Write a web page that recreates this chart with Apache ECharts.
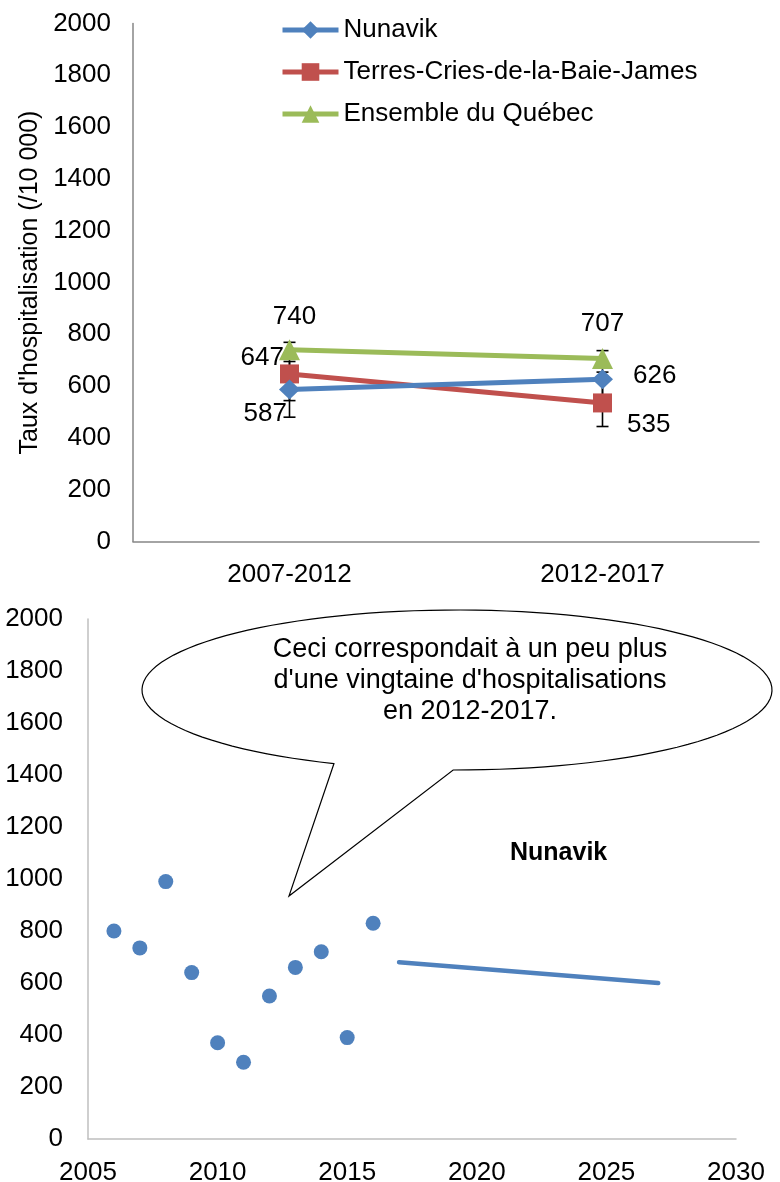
<!DOCTYPE html>
<html>
<head>
<meta charset="utf-8">
<script src="https://cdn.jsdelivr.net/npm/echarts@6/dist/echarts.min.js"></script>
<style>
  html, body { margin: 0; padding: 0; background: #fff; }
  #chart { width: 780px; height: 1182px; }
</style>
</head>
<body>
<div id="chart"></div>
<script>
// top chart: rates by period
const periods = ['2007-2012', '2012-2017'];
const nunavik = [587, 626];
const cries = [647, 535];
const quebec = [740, 707];
// confidence intervals [low, high]
const nunavikCI = [[480, 695], [515, 737]];
const criesCI = [[544, 769], [444, 654]];

// bottom chart: annual Nunavik values + trend segment
const years = [2006, 2007, 2008, 2009, 2010, 2011, 2012, 2013, 2014, 2015, 2016];
const nunavikAnnual = [800, 735, 990, 640, 370, 295, 550, 660, 720, 390, 830];
const trendYears = [2017, 2027];
const trendValues = [680, 600];

const FONT = 'Liberation Sans, Arial, sans-serif';
const BLUE = '#4F81BD', RED = '#C0504D', GREEN = '#9BBB59';

const chart = echarts.init(document.getElementById('chart'));

// label placements for each point (position, distance, offset)
const lbl = (position, distance, offset) => ({
    show: true, position: position, distance: distance, offset: offset,
    fontSize: 26, fontFamily: FONT, color: '#000'
});

const errorBars = (ci) => ({
    type: 'custom',
    xAxisIndex: 0, yAxisIndex: 0,
    z: 1,
    silent: true,
    data: ci.map((c, i) => [i, c[0], c[1]]),
    renderItem: (params, api) => {
        const lo = api.coord([api.value(0), api.value(1)]);
        const hi = api.coord([api.value(0), api.value(2)]);
        const w = 6;
        const st = { stroke: '#000', lineWidth: 1.6 };
        return {
            type: 'group',
            children: [
                { type: 'line', shape: { x1: lo[0], y1: lo[1], x2: hi[0], y2: hi[1] }, style: st },
                { type: 'line', shape: { x1: lo[0] - w, y1: lo[1], x2: lo[0] + w, y2: lo[1] }, style: st },
                { type: 'line', shape: { x1: hi[0] - w, y1: hi[1], x2: hi[0] + w, y2: hi[1] }, style: st }
            ]
        };
    }
});

// speech bubble outline: ellipse arc + wedge pointing down-left
function bubblePoints() {
    const cx = 457, cy = 690, rx = 315, ry = 80;
    const pts = [];
    const a0 = 113 * Math.PI / 180, a1 = 450.7 * Math.PI / 180;
    const n = 120;
    for (let i = 0; i <= n; i++) {
        const t = a0 + (a1 - a0) * i / n;
        pts.push([cx + rx * Math.cos(t), cy + ry * Math.sin(t)]);
    }
    pts.push([289, 896]);
    return pts;
}

const plain = (v) => String(v);
const axisLabelStyle = { fontSize: 26, fontFamily: FONT, color: '#000', formatter: plain };

const option = {
    animation: false,
    title: {
        text: 'Nunavik',
        left: 505, top: 836,
        textStyle: { fontSize: 25, fontWeight: 'bold', fontFamily: FONT, color: '#000' }
    },
    legend: {
        left: 275, top: 12,
        orient: 'vertical',
        itemWidth: 56, itemHeight: 22,
        itemGap: 16,
        data: ['Nunavik', 'Terres-Cries-de-la-Baie-James', 'Ensemble du Québec'],
        lineStyle: { width: 5 },
        textStyle: { fontSize: 26, fontFamily: FONT, color: '#000', lineHeight: 26 }
    },
    grid: [
        { left: 133, right: 21, top: 23.5, bottom: 640.5, outerBoundsMode: 'none' },
        { left: 88, right: 44, top: 619, bottom: 43, outerBoundsMode: 'none' }
    ],
    xAxis: [
        {
            type: 'category', gridIndex: 0, data: periods,
            axisLine: { lineStyle: { color: '#868686', width: 1.5 } },
            axisTick: { show: false },
            axisLabel: { margin: 20, fontSize: 26, fontFamily: FONT, color: '#000' }
        },
        {
            type: 'value', gridIndex: 1, min: 2005, max: 2030, interval: 5,
            axisLine: { show: true, lineStyle: { color: '#BFBFBF', width: 1.5 } },
            axisTick: { show: false },
            splitLine: { show: false },
            axisLabel: Object.assign({ margin: 21 }, axisLabelStyle)
        }
    ],
    yAxis: [
        {
            type: 'value', gridIndex: 0, min: 0, max: 2000, interval: 200,
            name: "Taux d'hospitalisation (/10 000)",
            nameLocation: 'middle', nameGap: 77, nameRotate: 90,
            nameTextStyle: { fontSize: 25, fontFamily: FONT, color: '#000' },
            axisLine: { show: true, lineStyle: { color: '#868686', width: 1.5 } },
            axisTick: { show: false },
            splitLine: { show: false },
            axisLabel: Object.assign({ margin: 22 }, axisLabelStyle)
        },
        {
            type: 'value', gridIndex: 1, min: 0, max: 2000, interval: 200,
            axisLine: { show: true, lineStyle: { color: '#BFBFBF', width: 1.5 } },
            axisTick: { show: false },
            splitLine: { show: false },
            axisLabel: Object.assign({ margin: 25 }, axisLabelStyle)
        }
    ],
    series: [
        errorBars(nunavikCI),
        errorBars(criesCI),
        {
            name: 'Nunavik', type: 'line', xAxisIndex: 0, yAxisIndex: 0, z: 4,
            data: [
                { value: nunavik[0], label: lbl('left', 4, [12, 24]) },
                { value: nunavik[1], label: lbl('right', 20, [0, -4]) }
            ],
            symbol: 'diamond', symbolSize: [21, 20],
            itemStyle: { color: BLUE },
            lineStyle: { color: BLUE, width: 5 }
        },
        {
            name: 'Terres-Cries-de-la-Baie-James', type: 'line', xAxisIndex: 0, yAxisIndex: 0, z: 3,
            data: [
                { value: cries[0], label: lbl('left', 5, [9, -16]) },
                { value: cries[1], label: lbl('right', 15, [0, 22]) }
            ],
            symbol: 'rect', symbolSize: 19,
            itemStyle: { color: RED },
            lineStyle: { color: RED, width: 5 }
        },
        {
            name: 'Ensemble du Québec', type: 'line', xAxisIndex: 0, yAxisIndex: 0, z: 3,
            data: [
                { value: quebec[0], label: lbl('top', 10, [5, 0]) },
                { value: quebec[1], label: lbl('top', 11, [0, 0]) }
            ],
            symbol: 'triangle', symbolSize: 21,
            itemStyle: { color: GREEN },
            lineStyle: { color: GREEN, width: 5 }
        },
        {
            name: 'annual', type: 'scatter', xAxisIndex: 1, yAxisIndex: 1,
            data: years.map((y, i) => [y, nunavikAnnual[i]]),
            symbolSize: 15,
            itemStyle: { color: BLUE, opacity: 1 }
        },
        {
            name: 'trend', type: 'line', xAxisIndex: 1, yAxisIndex: 1,
            data: trendYears.map((y, i) => [y, trendValues[i]]),
            showSymbol: false, symbol: 'none',
            lineStyle: { color: BLUE, width: 4.5, cap: 'round' }
        }
    ],
    graphic: [
        {
            type: 'polygon', z: 10,
            shape: { points: bubblePoints() },
            style: { fill: '#fff', stroke: '#000', lineWidth: 1.2 }
        },
        {
            type: 'text', z: 11,
            x: 470, y: 681,
            style: {
                text: "Ceci correspondait à un peu plus\nd'une vingtaine d'hospitalisations\nen 2012-2017.",
                font: '27px ' + FONT,
                fill: '#000',
                align: 'center', verticalAlign: 'middle',
                lineHeight: 31
            }
        }
    ]
};

chart.setOption(option);
</script>
</body>
</html>
